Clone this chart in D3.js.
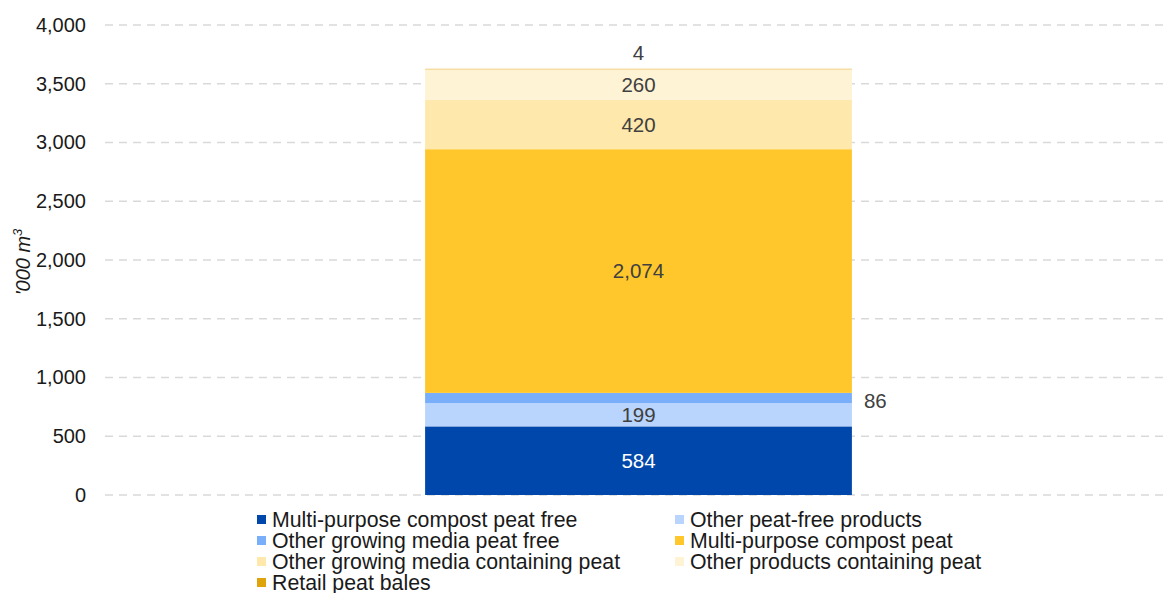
<!DOCTYPE html>
<html>
<head>
<meta charset="utf-8">
<script src="https://cdn.jsdelivr.net/npm/d3@7.9.0/dist/d3.min.js"></script>
<style>
  body { margin: 0; background: #fff; }
  svg { font-family: "Liberation Sans", Arial, sans-serif; }
</style>
</head>
<body>
<svg id="chart" width="1163" height="593"></svg>
<script>
const series = [
  'Multi-purpose compost peat free',
  'Other peat-free products',
  'Other growing media peat free',
  'Multi-purpose compost peat',
  'Other growing media containing peat',
  'Other products containing peat',
  'Retail peat bales'
];
const values = [584, 199, 86, 2074, 420, 260, 4];
const colorList = ['#0047ab', '#b9d5fd', '#78aefa', '#ffc72c', '#fee8ab', '#fff3d6', '#dfa40b'];
const yTicks = [0, 500, 1000, 1500, 2000, 2500, 3000, 3500, 4000];
// legend order (two columns, row by row)
const legendOrder = [0, 1, 2, 3, 4, 5, 6];

const svg = d3.select('#chart');
const margin = { left: 105, right: 1172, top: 25, bottom: 495 };

const x = d3.scaleBand().domain(['all']).range([margin.left, margin.right]).paddingInner(0.6).paddingOuter(0.3);
const y = d3.scaleLinear().domain([0, 4000]).range([margin.bottom, margin.top]);
const color = d3.scaleOrdinal().domain(series).range(colorList);

// grid
svg.append('g').selectAll('line').data(yTicks).join('line')
  .attr('x1', margin.left).attr('x2', 1163)
  .attr('y1', d => y(d)).attr('y2', d => y(d))
  .attr('stroke', '#d9d9d9').attr('stroke-width', 1.5)
  .attr('stroke-dasharray', '8,6');

// y axis labels
const yAxis = svg.append('g').attr('transform', `translate(${margin.left},0)`)
  .call(d3.axisLeft(y).tickValues(yTicks).tickFormat(d3.format(',')).tickSize(0).tickPadding(19));
yAxis.select('.domain').remove();
yAxis.selectAll('text').attr('font-size', 20).attr('fill', '#1a1a1a')
  .attr('font-family', '"Liberation Sans", Arial, sans-serif');

// axis title
const title = svg.append('text')
  .attr('transform', `translate(30,${y(2000) + 2}) rotate(-90)`)
  .attr('text-anchor', 'middle')
  .attr('font-size', 20).attr('font-style', 'italic').attr('fill', '#1a1a1a');
title.append('tspan').text("'000 m");
title.append('tspan').text('3').attr('font-size', 13).attr('dy', -8);

// stacked bar
let acc = 0;
const stacks = values.map((v, i) => {
  const s = { key: series[i], y0: acc, y1: acc + v, value: v };
  acc += v;
  return s;
});

const bx = x('all'), bw = x.bandwidth();
svg.append('g').selectAll('rect').data(stacks).join('rect')
  .attr('x', bx).attr('width', bw)
  .attr('y', d => y(d.y1)).attr('height', d => y(d.y0) - y(d.y1))
  .attr('fill', d => color(d.key));

// value labels
svg.append('g').selectAll('text').data(stacks).join('text')
  .attr('font-size', 20.5)
  .attr('fill', (d, i) => i === 0 ? '#ffffff' : '#404040')
  .attr('text-anchor', (d, i) => i === 2 ? 'start' : 'middle')
  .attr('x', (d, i) => i === 2 ? bx + bw + 12 : bx + bw / 2)
  .attr('y', (d, i) => {
    if (i === 6) return y(d.y1) - 16;
    if (i === 2) return (y(d.y0) + y(d.y1)) / 2 + 3;
    return (y(d.y0) + y(d.y1)) / 2;
  })
  .attr('dy', '0.35em')
  .text(d => d3.format(',')(d.value));

// legend
const legend = svg.append('g');
const items = legend.selectAll('g').data(legendOrder).join('g')
  .attr('transform', (d, i) => `translate(${i % 2 === 0 ? 257 : 675},${520 + Math.floor(i / 2) * 21})`);
items.append('rect').attr('x', 0).attr('y', -5).attr('width', 9).attr('height', 9)
  .attr('fill', d => colorList[d]);
items.append('text').attr('x', 15).attr('dy', '0.35em')
  .attr('font-size', 21.3).attr('fill', '#1a1a1a')
  .text(d => series[d]);
</script>
</body>
</html>
